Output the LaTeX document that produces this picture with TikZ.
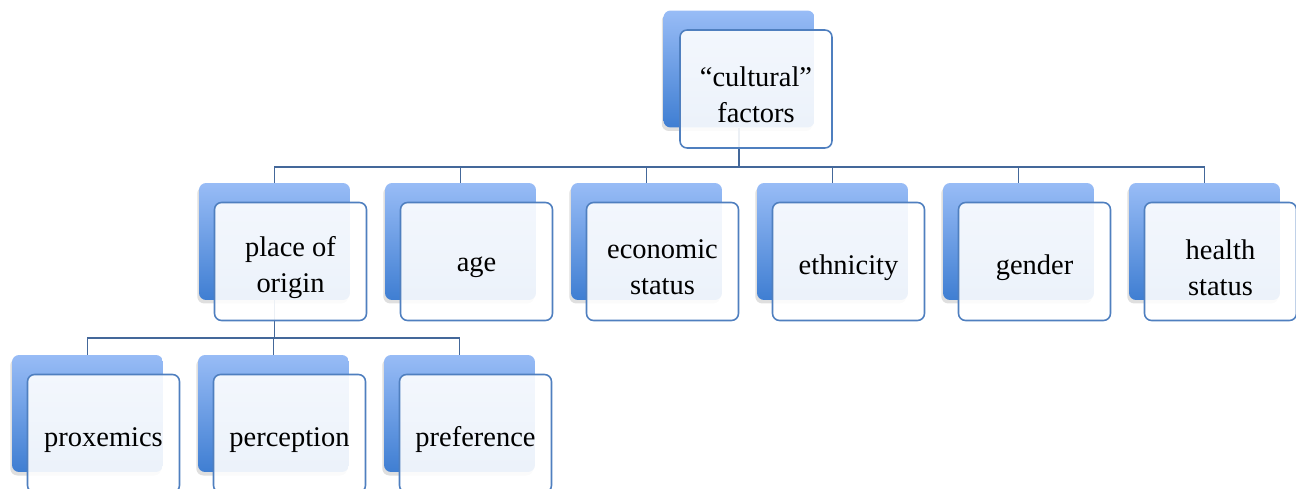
\documentclass[tikz,border=0pt]{standalone}
\usepackage{fontspec}
\setmainfont{Liberation Serif}
\usetikzlibrary{shadows}

\definecolor{boxtop}{HTML}{98BCF6}
\definecolor{boxbot}{HTML}{3F7ED2}
\definecolor{boxline}{HTML}{4F7FBF}
\definecolor{linkcol}{HTML}{44689A}

\tikzset{
    backbox/.style={rectangle, rounded corners=4pt, minimum width=3.02cm, minimum height=2.34cm,
        top color=boxtop, bottom color=boxbot, draw=none,
        drop shadow={opacity=0.25, shadow xshift=-1pt, shadow yshift=-2pt}},
    frontbox/.style={rectangle, rounded corners=4pt, minimum width=3.04cm, minimum height=2.36cm,
        draw=boxline, line width=0.9pt, fill=white, fill opacity=0.9},
    boxtext/.style={align=center, yshift=-3.5pt, text opacity=1, text=black,
        font=\fontsize{16.2}{20.5}\selectfont},
    link/.style={draw=linkcol, line width=1pt}
}

\begin{document}
\begin{tikzpicture}[x=0.02cm, y=-0.02cm]
        \clip (0, 0) rectangle (1296, 489);

        \node[backbox] (cult) at (739, 69) {};
        \node[backbox] (origin) at (274.5, 241.5) {};
        \node[backbox] (age) at (460.5, 241.5) {};
        \node[backbox] (econ) at (646.5, 241.5) {};
        \node[backbox] (ethn) at (832.5, 241.5) {};
        \node[backbox] (gender) at (1018.5, 241.5) {};
        \node[backbox] (health) at (1204.5, 241.5) {};
        \node[backbox] (prox) at (87.5, 413.5) {};
        \node[backbox] (perc) at (273.5, 413.5) {};
        \node[backbox] (pref) at (459.5, 413.5) {};

        \coordinate (bar1) at (739, 167);
        \coordinate (bar2) at (274.5, 338);
        \foreach \c in {origin, age, econ, ethn, gender, health}
            \draw[link] (cult.south) |- (bar1) -| (\c.north);
        \foreach \c in {prox, perc, pref}
            \draw[link] (origin.south) |- (bar2) -| (\c.north);

        \node[frontbox, label={[boxtext]center:``cultural''\\factors}] (cult-t) at (756, 89) {};
        \node[frontbox, label={[boxtext]center:place of\\origin}] (origin-t) at (290.5, 261.5) {};
        \node[frontbox, label={[boxtext]center:age}] (age-t) at (476.5, 261.5) {};
        \node[frontbox, label={[boxtext]center:economic\\status}] (econ-t) at (662.5, 261.5) {};
        \node[frontbox, label={[boxtext]center:ethnicity}] (ethn-t) at (848.5, 261.5) {};
        \node[frontbox, label={[boxtext]center:gender}] (gender-t) at (1034.5, 261.5) {};
        \node[frontbox, label={[boxtext]center:health\\status}] (health-t) at (1220.5, 261.5) {};
        \node[frontbox, label={[boxtext]center:proxemics}] (prox-t) at (103.5, 433.5) {};
        \node[frontbox, label={[boxtext]center:perception}] (perc-t) at (289.5, 433.5) {};
        \node[frontbox, label={[boxtext]center:preference}] (pref-t) at (475.5, 433.5) {};
    \end{tikzpicture}
\end{document}
